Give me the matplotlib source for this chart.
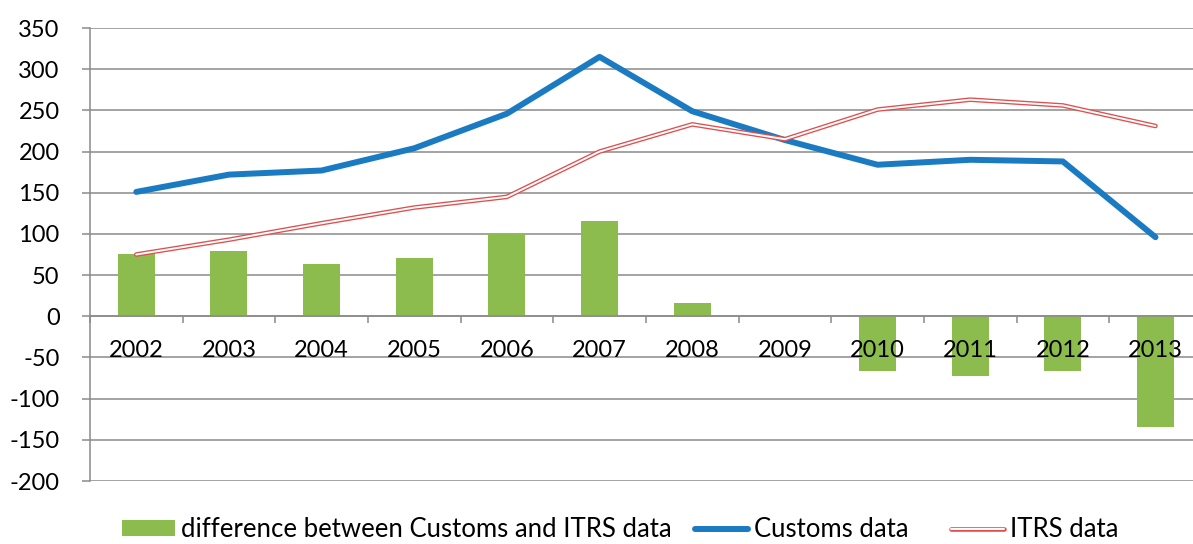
import numpy as np
import matplotlib.pyplot as plt
from matplotlib.lines import Line2D
from matplotlib.patches import Patch
from matplotlib.legend_handler import HandlerTuple

# Values
years = ["2002", "2003", "2004", "2005", "2006", "2007",
         "2008", "2009", "2010", "2011", "2012", "2013"]
customs = [151, 172, 177, 204, 246, 315, 249, 214, 184, 190, 188, 96]
itrs = [75, 93, 113, 132, 145, 200, 233, 215, 251, 263, 256, 231]
difference = [76, 79, 64, 71, 100, 116, 16, 0, -67, -72, -67, -135]

GREEN = "#8CBB4E"
BLUE = "#1B7BC2"
RED = "#E04E4E"
GRID = "#8A8A8A"

plt.rcParams["font.family"] = ["Lato", "DejaVu Sans"]
plt.rcParams["axes.unicode_minus"] = False

fig = plt.figure(figsize=(11.93, 5.44), dpi=100)
ax = fig.add_axes([0.0754, 0.1158, 0.932, 0.8327])

x = np.arange(len(years))

ax.bar(x, difference, width=0.4, color=GREEN, zorder=2)
ax.plot(x, customs, color=BLUE, lw=4.3, solid_capstyle="round",
        solid_joinstyle="round", zorder=3)
ax.plot(x, itrs, color=RED, lw=3.3, solid_capstyle="round",
        solid_joinstyle="round", zorder=4)
ax.plot(x, itrs, color="white", lw=1.4, solid_capstyle="round",
        solid_joinstyle="round", zorder=5)

ax.set_xlim(-0.5, len(years) - 0.5)
ax.set_ylim(-200, 350)
ax.set_yticks(np.arange(-200, 351, 50))
ax.yaxis.grid(True, color=GRID, lw=1.1)
ax.set_axisbelow(True)
# year labels sit on top of the negative bars
ax.xaxis.set_zorder(6)

for side in ("top", "right"):
    ax.spines[side].set_visible(False)
ax.spines["left"].set_color(GRID)
ax.spines["left"].set_linewidth(1.1)
ax.spines["bottom"].set_position(("data", 0))
ax.spines["bottom"].set_color(GRID)
ax.spines["bottom"].set_linewidth(1.1)

ax.set_xticks(x)
ax.set_xticklabels(years)
ax.set_xticks(np.arange(-0.5, len(years), 1.0), minor=True)
ax.tick_params(axis="x", which="major", length=0, pad=17, labelsize=17)
ax.tick_params(axis="x", which="minor", length=5, width=1.1, color=GRID,
               direction="out")
ax.tick_params(axis="y", length=5.8, width=1.1, color=GRID, pad=16,
               labelsize=17)

# three legend entries placed where the reference puts them
entries = [
    (Patch(facecolor=GREEN, edgecolor="none"),
     "difference between Customs and ITRS data", 122),
    (Line2D([], [], color=BLUE, lw=4.3, solid_capstyle="round"),
     "Customs data", 695),
    ((Line2D([], [], color=RED, lw=3.3, solid_capstyle="round"),
      Line2D([], [], color="white", lw=1.4, solid_capstyle="round")),
     "ITRS data", 951),
]
for handle, label, left_px in entries:
    fig.legend([handle], [label], loc="center left",
               bbox_to_anchor=(left_px / 1193, 0.026),
               frameon=False, fontsize=18.5, handlelength=2.05,
               handleheight=0.56, handletextpad=0.24,
               borderpad=0, borderaxespad=0,
               handler_map={tuple: HandlerTuple(ndivide=1)})

fig.savefig("out.png", dpi=100)
